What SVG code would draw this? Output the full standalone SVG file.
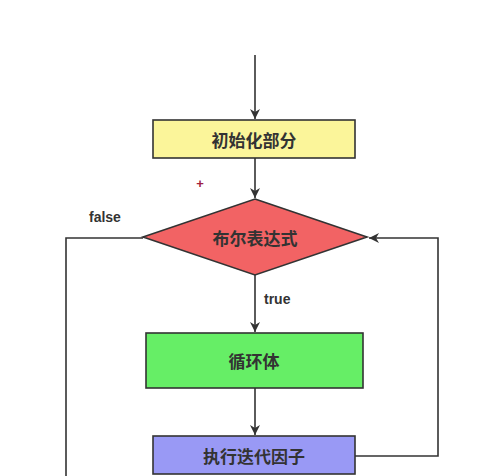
<svg xmlns="http://www.w3.org/2000/svg" width="493" height="476" viewBox="0 0 493 476">
<defs>
<marker id="ah" viewBox="0 0 10 10" refX="10" refY="5" markerWidth="10" markerHeight="10" markerUnits="userSpaceOnUse" orient="auto">
<path d="M0,0 L10,5 L0,10 L3,5 Z" fill="#333"/>
</marker>
</defs>
<style>
.box{stroke:#333;stroke-width:1.6}
.lbl{font-family:"Noto Sans CJK SC","Noto Sans",sans-serif;font-weight:bold;font-size:17px;fill:#333;text-anchor:middle;dominant-baseline:central}
.small{font-family:"Liberation Sans","Noto Sans",sans-serif;font-weight:bold;font-size:14px;fill:#333}
.edge{fill:none;stroke:#333;stroke-width:1.6}
</style>
<rect width="493" height="476" fill="#fff"/>
<g id="connectors">
<path class="edge" d="M255,55 V119" marker-end="url(#ah)"/>
<path class="edge" d="M255,158 V198" marker-end="url(#ah)"/>
<path class="edge" d="M255,275 V332" marker-end="url(#ah)"/>
<path class="edge" d="M255,388 V435" marker-end="url(#ah)"/>
<path class="edge" d="M143,238 H66 V476"/>
<path class="edge" d="M355,456 H438 V238 H369" marker-end="url(#ah)"/>
<text class="small" x="89" y="222">false</text>
<text class="small" x="264" y="304">true</text>
</g>
<text x="200" y="188" font-family="Liberation Sans,sans-serif" font-weight="bold" font-size="13" fill="#a02040" text-anchor="middle">+</text>
<g id="init">
<rect class="box" x="153" y="120" width="202" height="38" fill="#fbf59a"/>
<text class="lbl" x="254" y="139">初始化部分</text>
</g>
<g id="cond">
<polygon class="box" points="255,199 367,237 255,275 143,237" fill="#f26364"/>
<text class="lbl" x="255" y="237">布尔表达式</text>
</g>
<g id="body">
<rect class="box" x="146" y="333" width="217" height="55" fill="#66ee66"/>
<text class="lbl" x="254" y="360">循环体</text>
</g>
<g id="iter">
<rect class="box" x="153" y="436" width="202" height="38" fill="#9999f5"/>
<text class="lbl" x="254" y="455">执行迭代因子</text>
</g>
</svg>
